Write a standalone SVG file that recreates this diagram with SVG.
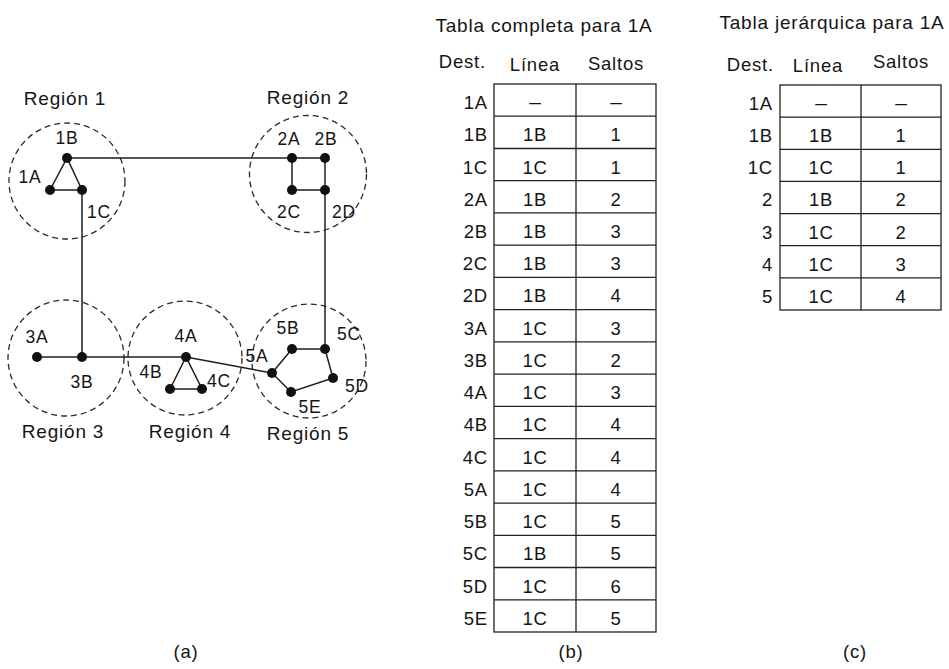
<svg xmlns="http://www.w3.org/2000/svg" width="949" height="669" viewBox="0 0 949 669">
<style>
text{font-family:"Liberation Sans",Arial,sans-serif;fill:#151515;letter-spacing:0.8px}
.lbl{font-size:17.5px;text-anchor:middle}
.reg{font-size:19px;text-anchor:middle}
.ttl{font-size:19px;text-anchor:middle}
.hd{font-size:18.5px}
.c{font-size:18.5px;text-anchor:middle}
.r{font-size:18.5px;text-anchor:end}
.d{font-size:21px;text-anchor:middle;letter-spacing:0}
.region{fill:none;stroke:#2a2a2a;stroke-width:1.3;stroke-dasharray:6 4}
.edge{stroke:#1e1e1e;stroke-width:1.5;fill:none}
.node{fill:#111}
.grid{stroke:#222;stroke-width:1.3;fill:none}
</style>
<rect width="949" height="669" fill="#fff"/>
<g id="regions">
<circle class="region" cx="67" cy="181" r="58"/>
<circle class="region" cx="308" cy="174" r="58.5"/>
<circle class="region" cx="66" cy="358" r="58"/>
<circle class="region" cx="185" cy="358" r="57"/>
<circle class="region" cx="309" cy="361" r="57"/>
<text class="reg" x="65" y="105">Región 1</text>
<text class="reg" x="308" y="104">Región 2</text>
<text class="reg" x="63" y="438">Región 3</text>
<text class="reg" x="190" y="438">Región 4</text>
<text class="reg" x="308" y="440">Región 5</text>
</g>
<g id="connectors">
<path class="edge" d="M50 190L67 158L82 190Z"/>
<path class="edge" d="M67 158H292"/>
<path class="edge" d="M292 158H325V190H292Z"/>
<path class="edge" d="M82 190V357"/>
<path class="edge" d="M37 357H186"/>
<path class="edge" d="M170 389L186 357L202 389Z"/>
<path class="edge" d="M186 357L272 373"/>
<path class="edge" d="M272 373L292 349H325L333 378L291 392Z"/>
<path class="edge" d="M325 190V349"/>
</g>
<g id="node-1A"><circle class="node" cx="50" cy="190" r="5"/><text class="lbl" x="30" y="183">1A</text></g>
<g id="node-1B"><circle class="node" cx="67" cy="158" r="5"/><text class="lbl" x="67" y="144">1B</text></g>
<g id="node-1C"><circle class="node" cx="82" cy="190" r="5"/><text class="lbl" x="99" y="218">1C</text></g>
<g id="node-2A"><circle class="node" cx="292" cy="158" r="5"/><text class="lbl" x="289" y="145">2A</text></g>
<g id="node-2B"><circle class="node" cx="325" cy="158" r="5"/><text class="lbl" x="326" y="145">2B</text></g>
<g id="node-2C"><circle class="node" cx="292" cy="190" r="5"/><text class="lbl" x="289" y="218">2C</text></g>
<g id="node-2D"><circle class="node" cx="325" cy="190" r="5"/><text class="lbl" x="344" y="218">2D</text></g>
<g id="node-3A"><circle class="node" cx="37" cy="357" r="5"/><text class="lbl" x="37" y="343">3A</text></g>
<g id="node-3B"><circle class="node" cx="82" cy="357" r="5"/><text class="lbl" x="82" y="388">3B</text></g>
<g id="node-4A"><circle class="node" cx="186" cy="357" r="5"/><text class="lbl" x="186" y="342">4A</text></g>
<g id="node-4B"><circle class="node" cx="170" cy="389" r="5"/><text class="lbl" x="151" y="378">4B</text></g>
<g id="node-4C"><circle class="node" cx="202" cy="389" r="5"/><text class="lbl" x="219" y="387">4C</text></g>
<g id="node-5A"><circle class="node" cx="272" cy="373" r="5"/><text class="lbl" x="257" y="362">5A</text></g>
<g id="node-5B"><circle class="node" cx="292" cy="349" r="5"/><text class="lbl" x="288" y="334">5B</text></g>
<g id="node-5C"><circle class="node" cx="325" cy="349" r="5"/><text class="lbl" x="349" y="340">5C</text></g>
<g id="node-5D"><circle class="node" cx="333" cy="378" r="5"/><text class="lbl" x="357" y="392">5D</text></g>
<g id="node-5E"><circle class="node" cx="291" cy="392" r="5"/><text class="lbl" x="310" y="413">5E</text></g>
<text class="c" x="186" y="658">(a)</text>

<g id="table-b">
<text class="ttl" x="544" y="32">Tabla completa para 1A</text>
<text class="hd" x="486" y="68" text-anchor="end">Dest.</text>
<text class="hd" x="535" y="71" text-anchor="middle">Línea</text>
<text class="hd" x="616" y="70" text-anchor="middle">Saltos</text>
<rect class="grid" x="494" y="84" width="162" height="548"/>
<path class="grid" d="M576 84V632M494 116.2H656M494 148.5H656M494 180.7H656M494 212.9H656M494 245.2H656M494 277.4H656M494 309.6H656M494 341.9H656M494 374.1H656M494 406.4H656M494 438.6H656M494 470.8H656M494 503.1H656M494 535.3H656M494 567.5H656M494 599.8H656"/>
<text class="r" x="488" y="109">1A</text><text class="d" x="535" y="109">–</text><text class="d" x="616" y="109">–</text>
<text class="r" x="488" y="141.2">1B</text><text class="c" x="535" y="141.2">1B</text><text class="c" x="616" y="141.2">1</text>
<text class="r" x="488" y="173.5">1C</text><text class="c" x="535" y="173.5">1C</text><text class="c" x="616" y="173.5">1</text>
<text class="r" x="488" y="205.7">2A</text><text class="c" x="535" y="205.7">1B</text><text class="c" x="616" y="205.7">2</text>
<text class="r" x="488" y="237.9">2B</text><text class="c" x="535" y="237.9">1B</text><text class="c" x="616" y="237.9">3</text>
<text class="r" x="488" y="270.2">2C</text><text class="c" x="535" y="270.2">1B</text><text class="c" x="616" y="270.2">3</text>
<text class="r" x="488" y="302.4">2D</text><text class="c" x="535" y="302.4">1B</text><text class="c" x="616" y="302.4">4</text>
<text class="r" x="488" y="334.6">3A</text><text class="c" x="535" y="334.6">1C</text><text class="c" x="616" y="334.6">3</text>
<text class="r" x="488" y="366.9">3B</text><text class="c" x="535" y="366.9">1C</text><text class="c" x="616" y="366.9">2</text>
<text class="r" x="488" y="399.1">4A</text><text class="c" x="535" y="399.1">1C</text><text class="c" x="616" y="399.1">3</text>
<text class="r" x="488" y="431.4">4B</text><text class="c" x="535" y="431.4">1C</text><text class="c" x="616" y="431.4">4</text>
<text class="r" x="488" y="463.6">4C</text><text class="c" x="535" y="463.6">1C</text><text class="c" x="616" y="463.6">4</text>
<text class="r" x="488" y="495.8">5A</text><text class="c" x="535" y="495.8">1C</text><text class="c" x="616" y="495.8">4</text>
<text class="r" x="488" y="528.1">5B</text><text class="c" x="535" y="528.1">1C</text><text class="c" x="616" y="528.1">5</text>
<text class="r" x="488" y="560.3">5C</text><text class="c" x="535" y="560.3">1B</text><text class="c" x="616" y="560.3">5</text>
<text class="r" x="488" y="592.5">5D</text><text class="c" x="535" y="592.5">1C</text><text class="c" x="616" y="592.5">6</text>
<text class="r" x="488" y="624.8">5E</text><text class="c" x="535" y="624.8">1C</text><text class="c" x="616" y="624.8">5</text>
<text class="c" x="571" y="658">(b)</text>
</g>

<g id="table-c">
<text class="ttl" x="832" y="29">Tabla jerárquica para 1A</text>
<text class="hd" x="774" y="71" text-anchor="end">Dest.</text>
<text class="hd" x="818" y="72" text-anchor="middle">Línea</text>
<text class="hd" x="901" y="68" text-anchor="middle">Saltos</text>
<rect class="grid" x="780" y="85" width="161" height="225"/>
<path class="grid" d="M861 85V310M780 117.1H941M780 149.3H941M780 181.4H941M780 213.6H941M780 245.7H941M780 277.9H941"/>
<text class="r" x="773" y="110">1A</text><text class="d" x="821" y="110">–</text><text class="d" x="901" y="110">–</text>
<text class="r" x="773" y="142.1">1B</text><text class="c" x="821" y="142.1">1B</text><text class="c" x="901" y="142.1">1</text>
<text class="r" x="773" y="174.3">1C</text><text class="c" x="821" y="174.3">1C</text><text class="c" x="901" y="174.3">1</text>
<text class="r" x="773" y="206.4">2</text><text class="c" x="821" y="206.4">1B</text><text class="c" x="901" y="206.4">2</text>
<text class="r" x="773" y="238.6">3</text><text class="c" x="821" y="238.6">1C</text><text class="c" x="901" y="238.6">2</text>
<text class="r" x="773" y="270.7">4</text><text class="c" x="821" y="270.7">1C</text><text class="c" x="901" y="270.7">3</text>
<text class="r" x="773" y="302.9">5</text><text class="c" x="821" y="302.9">1C</text><text class="c" x="901" y="302.9">4</text>
<text class="c" x="855" y="658">(c)</text>
</g>
</svg>
